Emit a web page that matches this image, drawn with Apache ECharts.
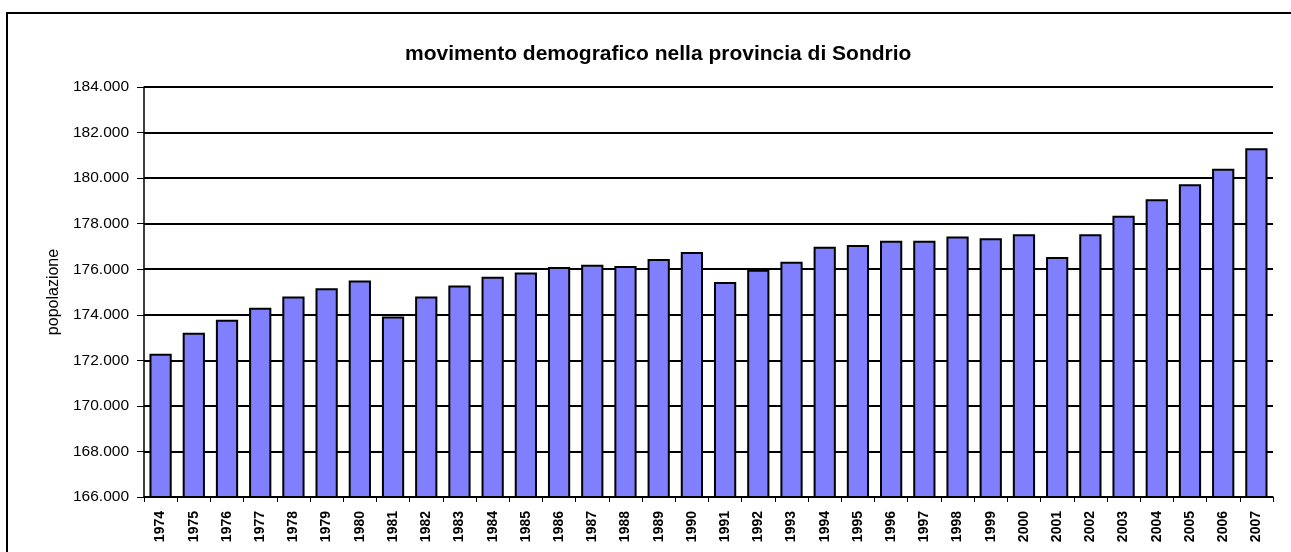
<!DOCTYPE html>
<html>
<head>
<meta charset="utf-8">
<script src="https://cdn.jsdelivr.net/npm/echarts@6/dist/echarts.min.js"></script>
<style>
html,body{margin:0;padding:0;background:#fff;}
#chart{width:1291px;height:552px;}
</style>
</head>
<body>
<div id="chart"></div>
<script>
const titleText = 'movimento demografico nella provincia di Sondrio';
const yAxisName = 'popolazione';
const years = ['1974','1975','1976','1977','1978','1979','1980','1981','1982','1983','1984','1985','1986','1987','1988','1989','1990','1991','1992','1993','1994','1995','1996','1997','1998','1999','2000','2001','2002','2003','2004','2005','2006','2007'];
const population = [172290,173210,173780,174310,174800,175160,175510,173920,174800,175290,175670,175860,176100,176200,176140,176450,176760,175440,175980,176330,176990,177060,177250,177250,177440,177360,177530,176540,177530,178350,179070,179730,180410,181310];
const yMin = 166000, yMax = 184000, yStep = 2000;

function fmt(v){
  const th = Math.floor(v/1000), r = v % 1000;
  return th + '.' + String(r).padStart(3,'0');
}

const chart = echarts.init(document.getElementById('chart'));
chart.setOption({
  animation:false,
  backgroundColor:'#fff',
  title:{
    text:titleText,
    left:400,
    top:39,
    textStyle:{fontFamily:'Arial, Liberation Sans',fontSize:21,fontWeight:'bold',color:'#000'}
  },
  graphic:[{
    type:'rect',
    shape:{x:7,y:13,width:1320,height:620},
    style:{fill:'none',stroke:'#000',lineWidth:2},
    silent:true
  }],
  grid:{left:144,right:18,top:87,bottom:55,containLabel:false},
  xAxis:{
    type:'category',
    data:years,
    boundaryGap:true,
    axisLine:{show:true,lineStyle:{color:'#000',width:1.5}},
    axisTick:{show:true,alignWithLabel:false,length:5,lineStyle:{color:'#000'}},
    axisLabel:{rotate:90,interval:0,margin:14,fontFamily:'Arial, Liberation Sans',fontSize:14,fontWeight:'bold',color:'#000'}
  },
  yAxis:{
    type:'value',
    min:yMin,max:yMax,interval:yStep,
    name:yAxisName,
    nameLocation:'middle',
    nameGap:76,
    nameRotate:90,
    nameTextStyle:{fontFamily:'Arial, Liberation Sans',fontSize:16,color:'#000'},
    axisLine:{show:true,lineStyle:{color:'#000',width:1.5}},
    axisTick:{show:true,length:7,lineStyle:{color:'#000'}},
    axisLabel:{formatter:fmt,margin:15,fontFamily:'Arial, Liberation Sans',fontSize:15.5,color:'#000'},
    splitLine:{show:true,lineStyle:{color:'#000',width:2}}
  },
  series:[{
    type:'bar',
    data:population,
    barCategoryGap:'33%',
    itemStyle:{color:'#8080FF',borderColor:'#000',borderWidth:2}
  }]
});
</script>
</body>
</html>
